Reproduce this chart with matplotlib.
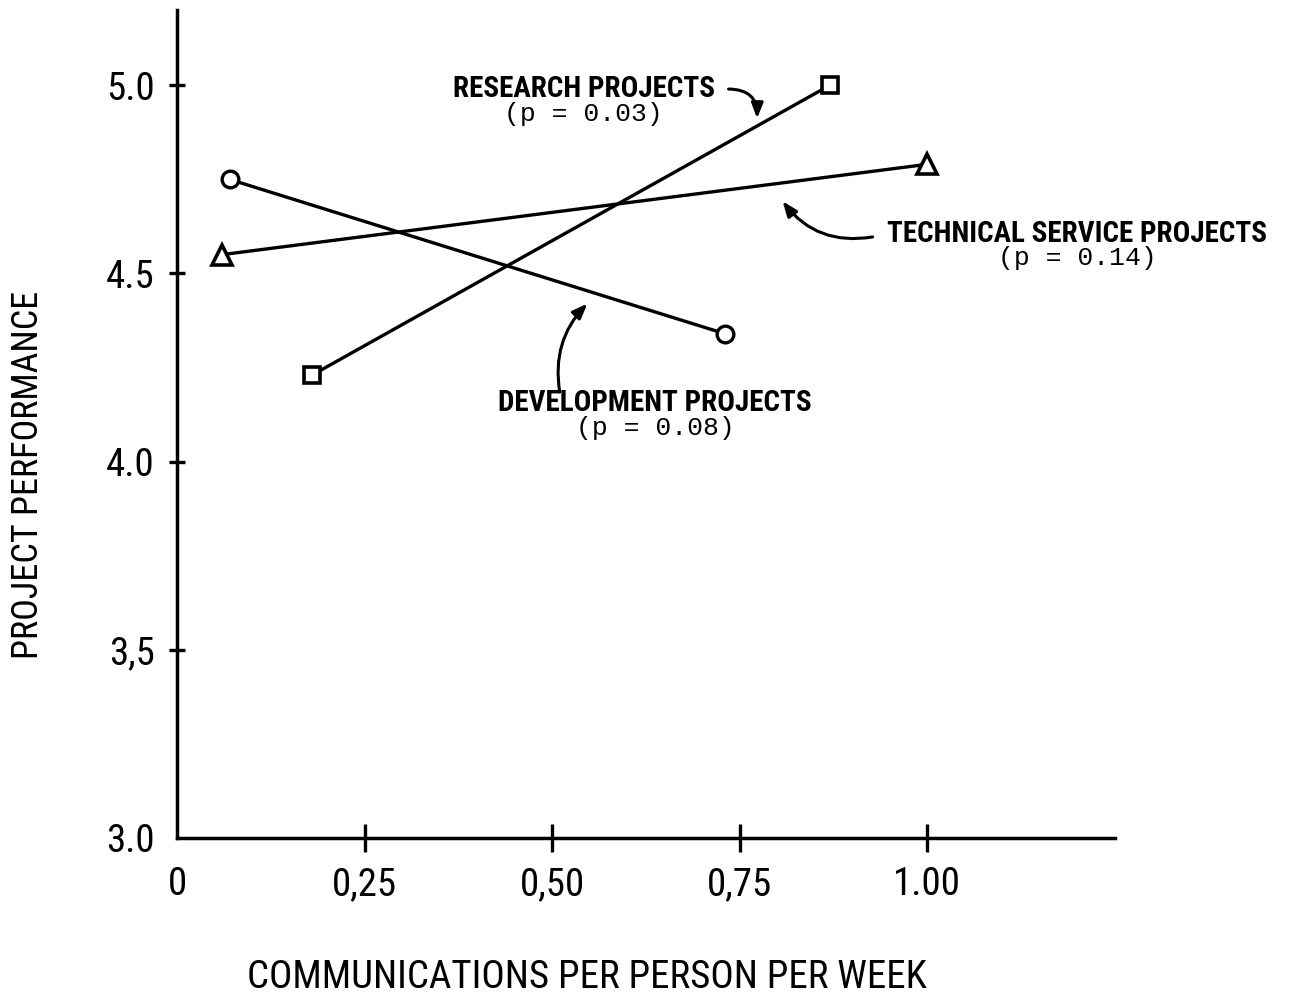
import matplotlib
matplotlib.use("Agg")
import matplotlib.pyplot as plt
from matplotlib import font_manager as fm

# ---- data ----
research_x = [0.18, 0.87]
research_y = [4.23, 5.00]
technical_x = [0.06, 1.00]
technical_y = [4.55, 4.79]
development_x = [0.07, 0.73]
development_y = [4.75, 4.34]
xticks = [0, 0.25, 0.50, 0.75, 1.00]
xtick_labels = ["0", "0,25", "0,50", "0,75", "1.00"]
yticks = [3.0, 3.5, 4.0, 4.5, 5.0]
ytick_labels = ["3.0", "3,5", "4.0", "4.5", "5.0"]

avail = {f.name for f in fm.fontManager.ttflist}
cond = None
for cand in ["DejaVu Sans Condensed", "Liberation Sans Narrow", "Roboto Condensed", "Open Sans Condensed"]:
    if cand in avail:
        cond = cand
        break
if cond is None:
    cond = "DejaVu Sans"
mono = "Liberation Mono" if "Liberation Mono" in avail else "DejaVu Sans Mono"

W, H = 1290, 1002
fig = plt.figure(figsize=(12.9, 10.02), dpi=100)
ax = fig.add_axes([177/W, 1-838/H, (1115-177)/W, (838-10)/H])
ax.set_xlim(0, 1.25)
ax.set_ylim(3.0, 5.2)
for s in ["top", "right"]:
    ax.spines[s].set_visible(False)
for s in ["left", "bottom"]:
    ax.spines[s].set_linewidth(2.5)

lw = 2.4
ax.plot(research_x, research_y, color="black", lw=lw, marker="s", ms=12,
        mfc="white", mec="black", mew=2.6)
ax.plot(technical_x, technical_y, color="black", lw=lw, marker="^", ms=14,
        mfc="white", mec="black", mew=2.6)
ax.plot(development_x, development_y, color="black", lw=lw, marker="o", ms=12,
        mfc="white", mec="black", mew=2.4)

ax.set_xticks(xticks)
ax.set_xticklabels(xtick_labels, fontfamily=cond, fontsize=28)
ax.set_yticks(yticks)
ax.set_yticklabels(ytick_labels, fontfamily=cond, fontsize=28)
ax.tick_params(axis="x", direction="inout", length=20, width=2.4, pad=10)
ax.tick_params(axis="y", direction="inout", length=12, width=2.4, pad=10)
ax.xaxis.get_major_ticks()[0].tick1line.set_visible(False)
ax.yaxis.get_major_ticks()[0].tick1line.set_visible(False)

fig.text(587/W, 1-977/H, "COMMUNICATIONS PER PERSON PER WEEK", fontfamily=cond,
         fontsize=28, ha="center", va="center")
fig.text(28/W, 1-475/H, "PROJECT PERFORMANCE", fontfamily=cond, fontsize=26,
         rotation=90, ha="center", va="center")

# annotations
tkw = dict(fontfamily=cond, fontsize=21, fontweight="bold", ha="center", va="center")
pkw = dict(fontfamily=mono, fontsize=19, ha="center", va="center")
ax.text(0.542, 4.99, "RESEARCH PROJECTS", **tkw)
ax.text(0.542, 4.925, "(p = 0.03)", **pkw)
ax.text(1.20, 4.605, "TECHNICAL SERVICE PROJECTS", clip_on=False, **tkw)
ax.text(1.20, 4.54, "(p = 0.14)", clip_on=False, **pkw)
ax.text(0.637, 4.155, "DEVELOPMENT PROJECTS", **tkw)
ax.text(0.637, 4.09, "(p = 0.08)", **pkw)

akw = dict(arrowstyle="-|>,head_length=0.9,head_width=0.35", color="black", lw=2.2,
           shrinkA=0, shrinkB=0)
ax.annotate("", xy=(0.773, 4.912), xytext=(0.735, 4.99),
            arrowprops=dict(connectionstyle="arc3,rad=-0.5", **akw))
ax.annotate("", xy=(0.807, 4.692), xytext=(0.927, 4.597),
            arrowprops=dict(connectionstyle="arc3,rad=-0.3", **akw))
ax.annotate("", xy=(0.547, 4.42), xytext=(0.51, 4.185),
            arrowprops=dict(connectionstyle="arc3,rad=-0.25", **akw))

fig.savefig("out.png", dpi=100)
